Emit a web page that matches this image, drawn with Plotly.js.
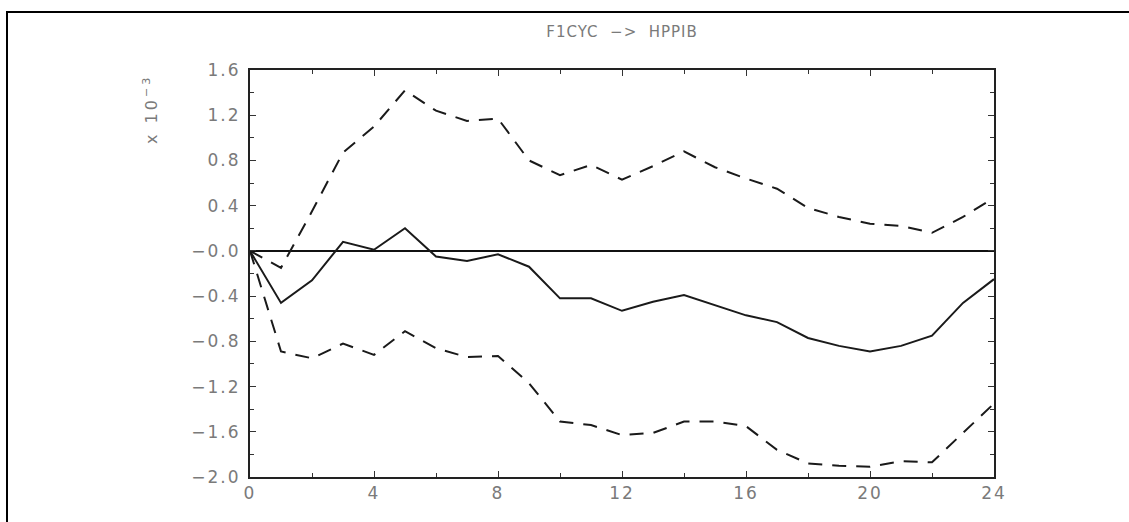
<!DOCTYPE html>
<html>
<head>
<meta charset="utf-8">
<script src="https://cdn.plot.ly/plotly-3.0.1.min.js"></script>
<style>
html,body{margin:0;padding:0;background:#fff;}
#chart{width:1129px;height:522px;}
#chart .xtick text, #chart .ytick text{letter-spacing:2px;}
#chart .gtitle{letter-spacing:1px;}
#chart .annotation-text{letter-spacing:3px;}
</style>
</head>
<body>
<div id="chart"></div>
<script>
const steps = [0,1,2,3,4,5,6,7,8,9,10,11,12,13,14,15,16,17,18,19,20,21,22,23,24];
const response = [0.0,-0.46,-0.26,0.08,0.01,0.2,-0.05,-0.09,-0.03,-0.14,-0.42,-0.42,-0.53,-0.45,-0.39,-0.48,-0.57,-0.63,-0.77,-0.84,-0.89,-0.84,-0.75,-0.46,-0.25];
const upperBand = [0.0,-0.15,0.35,0.87,1.1,1.42,1.24,1.15,1.17,0.8,0.67,0.76,0.63,0.75,0.88,0.74,0.64,0.55,0.38,0.3,0.24,0.22,0.16,0.3,0.47];
const lowerBand = [0.0,-0.89,-0.95,-0.82,-0.92,-0.71,-0.86,-0.94,-0.93,-1.17,-1.51,-1.54,-1.63,-1.61,-1.51,-1.51,-1.55,-1.76,-1.88,-1.9,-1.91,-1.86,-1.87,-1.61,-1.35];
const yTickVals = [1.6,1.2,0.8,0.4,0.0,-0.4,-0.8,-1.2,-1.6,-2.0];
const yTickText = ['1.6','1.2','0.8','0.4','\u22120.0','\u22120.4','\u22120.8','\u22121.2','\u22121.6','\u22122.0'];
const xTickVals = [0,4,8,12,16,20,24];
const chartTitle = 'F1CYC  \u2212>  HPPIB';
const yLabel = 'x 10<sup>\u22123</sup>';

const lineColor = '#1a1a1a';
const traces = [
  {x: steps, y: upperBand, mode: 'lines', line: {color: lineColor, width: 2, dash: '14px,10px'}, hoverinfo: 'skip'},
  {x: steps, y: lowerBand, mode: 'lines', line: {color: lineColor, width: 2, dash: '14px,10px'}, hoverinfo: 'skip'},
  {x: steps, y: response, mode: 'lines', line: {color: lineColor, width: 2}, hoverinfo: 'skip'}
];

const fam = 'DejaVu Sans, Verdana, sans-serif';
const textColor = '#7a7a7a';
const tickFont = {family: fam, size: 17, color: textColor};
const layout = {
  width: 1129, height: 522,
  margin: {l: 250, r: 135, t: 70, b: 45, pad: 0},
  paper_bgcolor: '#fff', plot_bgcolor: '#fff',
  showlegend: false,
  title: {text: chartTitle, x: 0.551, xanchor: 'center', y: 1 - 32/522, yanchor: 'middle',
          font: {family: fam, size: 15, color: textColor}},
  xaxis: {
    range: [0, 24], tickmode: 'array', tickvals: xTickVals, ticktext: xTickVals.map(String),
    ticks: 'inside', ticklen: 6, tickwidth: 1, tickcolor: '#333',
    minor: {tickmode: 'linear', tick0: 0, dtick: 2, ticks: 'inside', ticklen: 4, tickcolor: '#333', showgrid: false},
    showline: true, linecolor: '#222', linewidth: 2, mirror: 'allticks',
    showgrid: false, zeroline: false, tickfont: tickFont, fixedrange: true
  },
  yaxis: {
    range: [-2.0, 1.6], tickmode: 'array', tickvals: yTickVals, ticktext: yTickText,
    ticks: 'inside', ticklen: 6, tickwidth: 1, tickcolor: '#333',
    minor: {tickmode: 'linear', tick0: 0, dtick: 0.2, ticks: 'inside', ticklen: 4, tickcolor: '#333', showgrid: false},
    showline: true, linecolor: '#222', linewidth: 2, mirror: 'allticks',
    showgrid: false, zeroline: true, zerolinecolor: '#111', zerolinewidth: 2,
    tickfont: tickFont, fixedrange: true, ticklabelstandoff: 4
  },
  annotations: [
    {text: yLabel, xref: 'paper', yref: 'paper', x: (150-250)/744, y: (477-110)/407,
     xanchor: 'center', yanchor: 'middle', textangle: -90, showarrow: false,
     font: {family: fam, size: 16, color: textColor}}
  ],
  shapes: [
    {type: 'rect', xref: 'paper', yref: 'paper', x0: (7-250)/744, x1: 2, y0: -1, y1: (477-12)/407,
     line: {color: '#000', width: 2}, fillcolor: 'rgba(0,0,0,0)'}
  ]
};
Plotly.newPlot('chart', traces, layout, {displayModeBar: false, staticPlot: true});
</script>
</body>
</html>
